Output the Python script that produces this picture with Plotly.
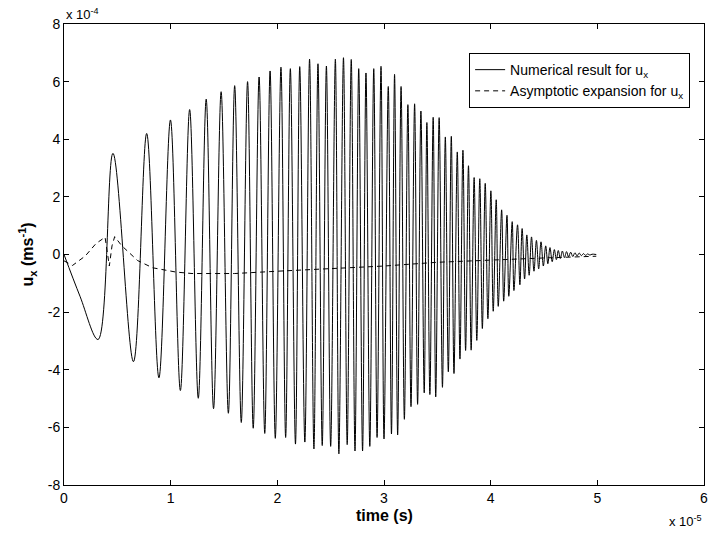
import plotly.graph_objects as go

# Numerical result: extrema (time in 1e-5 s, u_x in 1e-4 m/s)
num_t = [0.0, 0.15, 0.319, 0.459, 0.651, 0.775, 0.890, 0.998, 1.091, 1.178, 1.259, 1.333, 1.402, 1.473,
         1.541, 1.600, 1.662, 1.721, 1.774, 1.829, 1.882, 1.932, 1.981, 2.034, 2.078, 2.122, 2.170,
         2.210, 2.258, 2.302, 2.343, 2.381, 2.421, 2.460, 2.500, 2.544, 2.577, 2.620, 2.655, 2.693,
         2.728, 2.763, 2.799, 2.831, 2.867, 2.904, 2.935, 2.972, 3.000, 3.040, 3.070, 3.099, 3.128,
         3.160, 3.191, 3.224, 3.253, 3.287, 3.315, 3.346, 3.377, 3.402, 3.430, 3.461, 3.485, 3.517,
         3.548, 3.575, 3.603, 3.631, 3.656, 3.687, 3.712, 3.740, 3.765, 3.792, 3.817, 3.845, 3.870,
         3.898, 3.922, 3.949, 3.974, 4.002, 4.024, 4.052, 4.071, 4.103, 4.122, 4.153, 4.170, 4.202,
         4.218, 4.252, 4.274, 4.295, 4.318, 4.339, 4.361, 4.383, 4.406, 4.429, 4.450, 4.472, 4.494,
         4.516, 4.536, 4.556, 4.577, 4.597, 4.616, 4.634, 4.653, 4.672, 4.692, 4.711, 4.730, 4.750,
         4.770, 4.790, 4.810, 4.830, 4.850, 4.870, 4.890, 4.910, 4.930, 4.950, 4.990]
num_u = [0.0, -1.45, -2.95, 3.51, -3.72, 4.20, -4.28, 4.67, -4.72, 5.03, -4.99, 5.39, -5.35, 5.65,
         -5.51, 5.86, -5.83, 6.00, -6.03, 6.16, -6.21, 6.37, -6.38, 6.50, -6.35, 6.45, -6.58,
         6.52, -6.51, 6.78, -6.75, 6.62, -6.63, 6.54, -6.66, 6.78, -6.92, 6.83, -6.60, 6.77,
         -6.82, 6.45, -6.82, 6.30, -6.66, 6.45, -6.35, 6.53, -6.40, 5.83, -6.23, 6.25, -6.26,
         5.83, -5.72, 5.20, -5.28, 5.23, -5.20, 4.98, -4.80, 4.58, -4.86, 4.76, -4.94, 4.75,
         -4.61, 4.08, -4.07, 4.10, -4.13, 3.56, -3.63, 3.62, -3.33, 3.08, -3.32, 2.67, -2.98,
         2.63, -2.57, 2.47, -2.23, 2.21, -1.97, 1.90, -1.80, 1.55, -1.62, 1.36, -1.45, 1.14,
         -1.25, 1.03, -1.05, 0.90, -0.85, 0.68, -0.72, 0.61, -0.58, 0.49, -0.50, 0.44, -0.40,
         0.30, -0.32, 0.24, -0.25, 0.17, -0.18, 0.14, -0.14, 0.12, -0.11, 0.10, -0.08, 0.08,
         -0.07, 0.06, -0.05, 0.05, -0.04, 0.03, -0.03, 0.02, -0.02, 0.01, 0.0]

# Asymptotic expansion
asy_t = [0.0, 0.08, 0.2, 0.3, 0.385, 0.41, 0.425, 0.45, 0.475, 0.54, 0.69, 0.83, 1.05, 1.2, 1.6,
         2.0, 2.5, 3.0, 3.5, 4.0, 4.5, 4.99]
asy_u = [-0.22, -0.38, -0.05, 0.38, 0.60, 0.05, -0.40, 0.30, 0.62, 0.31, -0.21, -0.46, -0.61, -0.66,
         -0.66, -0.58, -0.50, -0.40, -0.27, -0.19, -0.12, -0.06]

x_ticks = [0, 1, 2, 3, 4, 5, 6]
y_ticks = [-8, -6, -4, -2, 0, 2, 4, 6, 8]
y_ticktext = ["-8", "-6", "-4", "-2", "0", "2", "4", "6", "8"]

FONT = "Liberation Sans, Arial, Helvetica, sans-serif"

fig = go.Figure()
fig.add_trace(go.Scatter(x=num_t, y=num_u, mode="lines",
                         line=dict(color="black", width=1, shape="spline", smoothing=1.0),
                         name="Numerical result for u<sub>x</sub>"))
fig.add_trace(go.Scatter(x=asy_t, y=asy_u, mode="lines",
                         line=dict(color="black", width=1, dash="5px,4px"),
                         name="Asymptotic expansion for u<sub>x</sub>"))

axis_common = dict(showline=True, linecolor="black", linewidth=1, mirror="allticks",
                   ticks="inside", ticklen=5, tickcolor="black", showgrid=False, zeroline=False,
                   tickfont=dict(family=FONT, size=14, color="black"))
fig.update_xaxes(range=[0, 6], tickvals=x_ticks, ticktext=[str(v) for v in x_ticks], **axis_common)
fig.update_yaxes(range=[-8, 8], tickvals=y_ticks, ticktext=y_ticktext, **axis_common)

fig.update_layout(
    width=713, height=537,
    margin=dict(l=64, r=5, t=24, b=52),
    plot_bgcolor="white", paper_bgcolor="white",
    font=dict(family=FONT, size=13, color="black"),
    legend=dict(x=0.633, y=0.937, xanchor="left", yanchor="top",
                bgcolor="white", bordercolor="black", borderwidth=1,
                font=dict(family=FONT, size=14), itemwidth=30,
                tracegroupgap=0),
    showlegend=True,
    annotations=[
        dict(text="x 10<sup>-4</sup>", xref="paper", yref="paper", x=0.0, y=1.0,
             xanchor="left", yanchor="bottom", showarrow=False, yshift=0,
             font=dict(family=FONT, size=13)),
        dict(text="x 10<sup>-5</sup>", xref="paper", yref="paper", x=1.0, y=0.0,
             xanchor="right", yanchor="top", showarrow=False, yshift=-26,
             font=dict(family=FONT, size=13)),
        dict(text="<b>time (s)</b>", xref="paper", yref="paper", x=0.5, y=0.0,
             xanchor="center", yanchor="top", showarrow=False, yshift=-20,
             font=dict(family=FONT, size=16)),
        dict(text="<b>u<sub>x</sub> (ms<sup>-1</sup>)</b>", xref="paper", yref="paper", x=0.0, y=0.5,
             xanchor="right", yanchor="middle", showarrow=False, xshift=-24, textangle=-90,
             font=dict(family=FONT, size=16)),
    ],
)

fig.write_html("out.html", config={"displayModeBar": False},
               post_script="document.body.style.margin='0';document.body.style.padding='0';")
